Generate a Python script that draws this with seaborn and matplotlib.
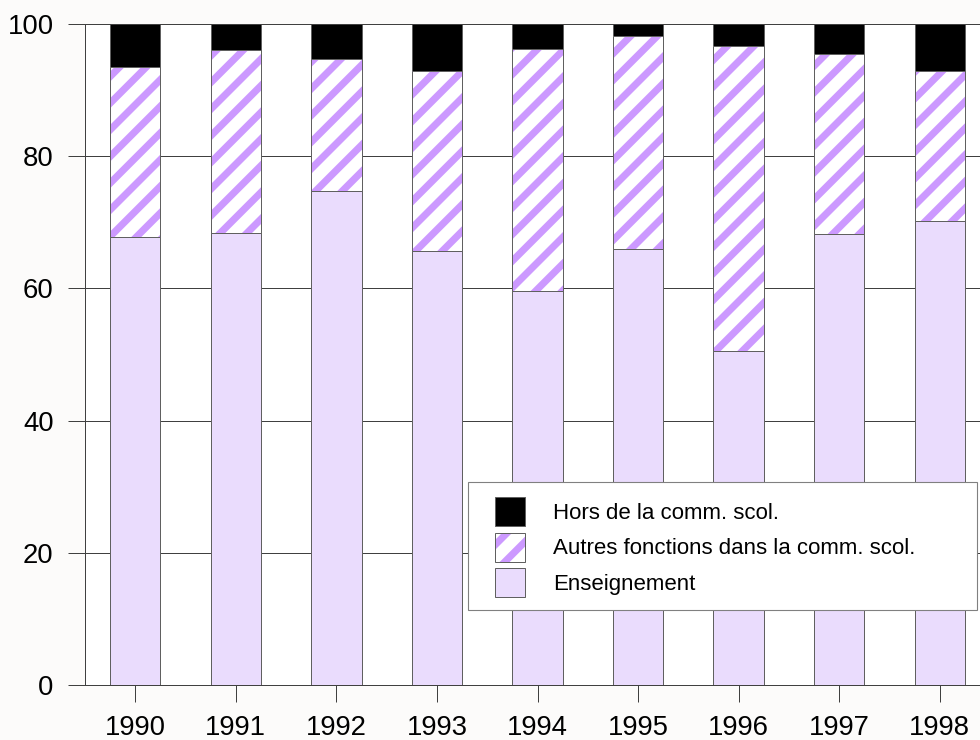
import pandas as pd
import matplotlib
matplotlib.use('Agg')
import matplotlib.pyplot as plt
import seaborn as sns
from matplotlib.patches import Patch, Rectangle

# valeurs (%)
years = ['1990', '1991', '1992', '1993', '1994', '1995', '1996', '1997', '1998']
enseignement = [67.8, 68.4, 74.7, 65.6, 59.6, 66.0, 50.6, 68.3, 70.2]
autres = [25.7, 27.7, 20.0, 27.3, 36.6, 32.2, 46.0, 27.1, 22.7]
hors = [6.5, 3.9, 5.3, 7.1, 3.8, 1.8, 3.4, 4.6, 7.1]

labels = ['Hors de la comm. scol.', 'Autres fonctions dans la comm. scol.', 'Enseignement']

df = pd.DataFrame({'year': years, 'ens': enseignement, 'autres': autres, 'hors': hors})
df['top2'] = df['ens'] + df['autres']
df['total'] = df['top2'] + df['hors']

sns.set_style('ticks')
plt.rcParams['font.family'] = ['Liberation Sans', 'DejaVu Sans']
plt.rcParams['hatch.linewidth'] = 3.2

EDGE = '#606060'
LINE = '#404040'
PURPLE = '#cc99ff'
LAVENDER = '#eadcfd'

fig = plt.figure(figsize=(6.125, 4.625), dpi=160, facecolor='#fcfbfa')
ax = fig.add_axes([85 / 980, 55 / 740, 905 / 980, 661 / 740])
ax.set_facecolor('white')


def bars(col, **kw):
    n = len(ax.patches)
    sns.barplot(data=df, x='year', y=col, width=0.5, errorbar=None,
                saturation=1, ax=ax, color='white')
    for p in ax.patches[n:]:
        p.set(**kw)


# empilement : total, puis ens+autres, puis enseignement
bars('total', facecolor='black', edgecolor=EDGE, linewidth=0.45)
bars('top2', facecolor='white', edgecolor=PURPLE, hatch='//', linewidth=0)
bars('top2', facecolor='none', edgecolor=EDGE, linewidth=0.45)
bars('ens', facecolor=LAVENDER, edgecolor=EDGE, linewidth=0.45)

ax.set_xlim(-0.5, 8.5)
ax.set_ylim(0, 100)
ax.set_yticks(range(0, 101, 20))
ax.set_xlabel('')
ax.set_ylabel('')
ax.grid(axis='y', color=LINE, linewidth=0.45)
ax.set_axisbelow(True)
for s in ['left', 'bottom', 'top']:
    ax.spines[s].set_color(LINE)
    ax.spines[s].set_linewidth(0.45)
ax.spines['right'].set_visible(False)
ax.tick_params(axis='both', direction='out', length=7.6, width=0.45,
               color=LINE, labelsize=12.4, labelcolor='black')
ax.tick_params(axis='y', pad=6.5)
ax.tick_params(axis='x', pad=5.8)

# légende
frame = Rectangle((468 / 980, 1 - 610 / 740), (977 - 468) / 980, 128 / 740,
                  transform=fig.transFigure, facecolor='white',
                  edgecolor='#808080', linewidth=0.5, zorder=4)
fig.add_artist(frame)
handles = [
    Patch(facecolor='black', edgecolor=EDGE, linewidth=0.45),
    (Patch(facecolor='white', edgecolor=PURPLE, hatch='//', linewidth=0),
     Patch(facecolor='none', edgecolor=EDGE, linewidth=0.45)),
    Patch(facecolor=LAVENDER, edgecolor=EDGE, linewidth=0.45),
]
leg = fig.legend(handles, labels, loc='upper left',
                 bbox_to_anchor=(495 / 980, 1 - 497 / 740), frameon=False,
                 borderpad=0, borderaxespad=0, fontsize=10,
                 handlelength=1.35, handleheight=1.63, labelspacing=0.3,
                 handletextpad=1.26)
for t in leg.get_texts():
    t.set_color('black')

fig.savefig('out.png', dpi=160, facecolor=fig.get_facecolor())
